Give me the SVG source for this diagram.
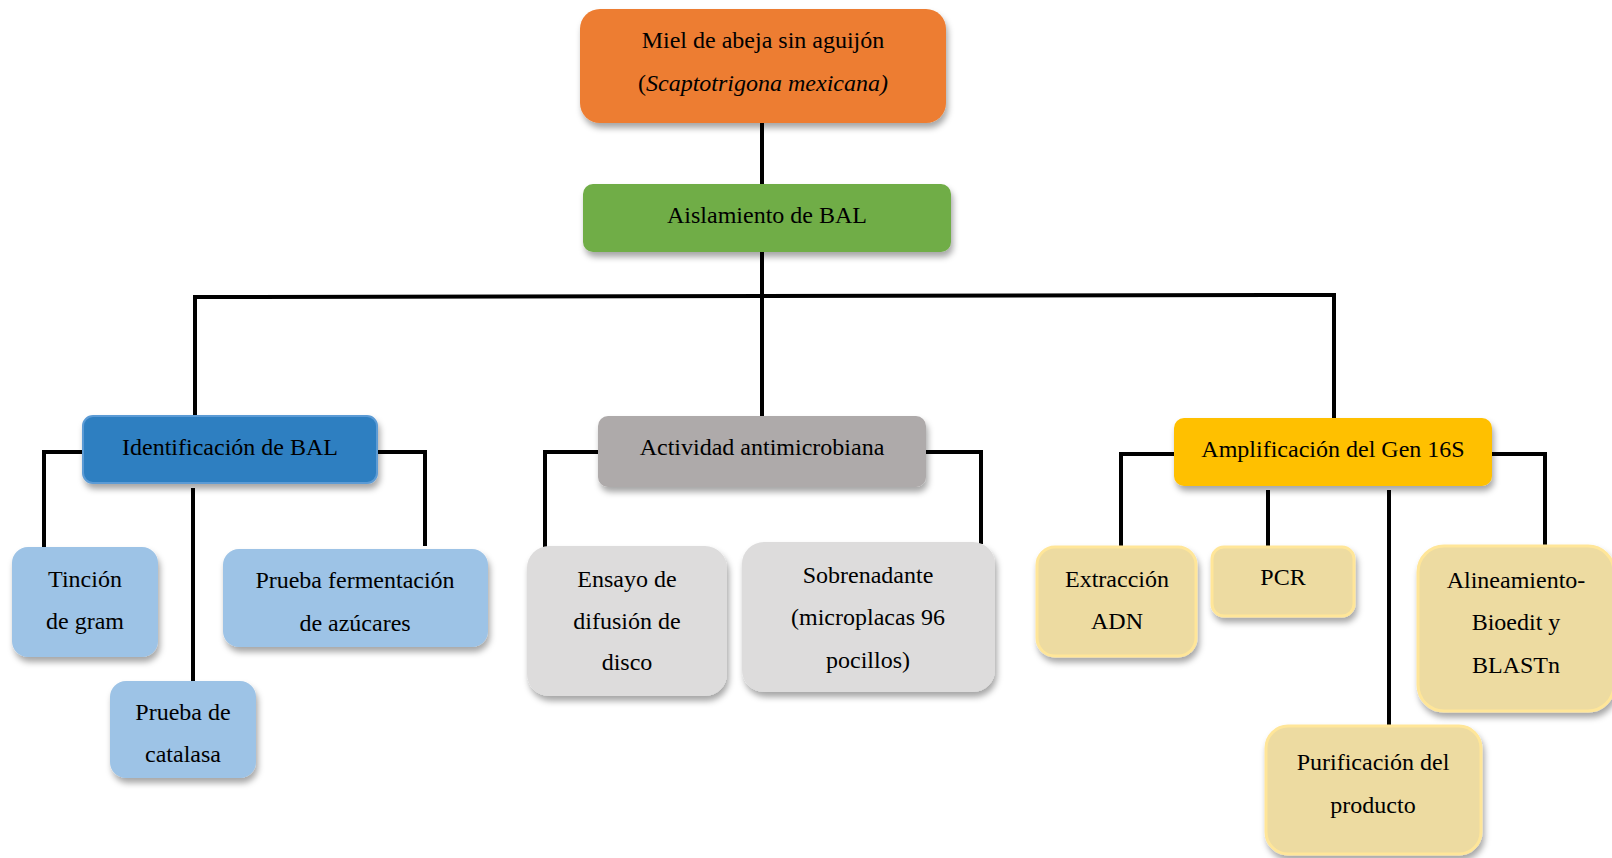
<svg xmlns="http://www.w3.org/2000/svg" width="1612" height="858" viewBox="0 0 1612 858">
<defs>
<filter id="sh" x="-20%" y="-20%" width="140%" height="160%">
<feDropShadow dx="2" dy="5" stdDeviation="3" flood-color="#000" flood-opacity="0.35"/>
</filter>
</defs>
<style>
text{font-family:"Liberation Serif","Times New Roman",serif;font-size:24px;fill:#000;text-anchor:middle}
.c{fill:none;stroke:#000;stroke-width:4}
.lb{fill:#9DC3E6;filter:url(#sh)}
.lg{fill:#DDDCDC;filter:url(#sh)}
.ly{fill:#EDDBA1;stroke:#FFE699;stroke-width:3;filter:url(#sh)}
</style>
<rect width="1612" height="858" fill="#fff"/>
<g id="connectors">
<path class="c" d="M762,123V184"/>
<path class="c" d="M762,252V294"/>
<path class="c" d="M195,418V297L1334,295V420"/>
<path class="c" d="M762,297V416"/>
<path class="c" d="M83,452H44V547"/>
<path class="c" d="M377,452H425V546"/>
<path class="c" d="M193,488V681"/>
<path class="c" d="M598,452H545V547"/>
<path class="c" d="M926,452H981V544"/>
<path class="c" d="M1174,454H1121V550"/>
<path class="c" d="M1492,454H1545V548"/>
<path class="c" d="M1268,490V548"/>
<path class="c" d="M1389,490V725"/>
</g>
<g id="miel">
<rect x="580" y="9" width="366" height="114" rx="20" fill="#ED7D31" filter="url(#sh)"/>
<text x="763" y="48">Miel de abeja sin aguijón</text>
<text x="763" y="91">(<tspan font-style="italic">Scaptotrigona mexicana)</tspan></text>
</g>
<g id="aislamiento">
<rect x="583" y="184" width="368" height="68" rx="10" fill="#70AD47" filter="url(#sh)"/>
<text x="767" y="223">Aislamiento de BAL</text>
</g>
<g id="identificacion">
<rect x="83" y="416" width="294" height="67" rx="10" fill="#2E7FC1" stroke="#5B9BD5" stroke-width="2" filter="url(#sh)"/>
<text x="230" y="455">Identificación de BAL</text>
</g>
<g id="actividad">
<rect x="598" y="416" width="328" height="71" rx="10" fill="#AEAAAA" filter="url(#sh)"/>
<text x="762" y="455">Actividad antimicrobiana</text>
</g>
<g id="amplificacion">
<rect x="1174" y="418" width="318" height="68" rx="10" fill="#FFC000" filter="url(#sh)"/>
<text x="1333" y="457">Amplificación del Gen 16S</text>
</g>
<g id="tincion">
<rect class="lb" x="12" y="547" width="146" height="110" rx="16"/>
<text x="85" y="587">Tinción</text>
<text x="85" y="629">de gram</text>
</g>
<g id="fermentacion">
<rect class="lb" x="223" y="549" width="265" height="98" rx="16"/>
<text x="355" y="588">Prueba fermentación</text>
<text x="355" y="631">de azúcares</text>
</g>
<g id="catalasa">
<rect class="lb" x="110" y="681" width="146" height="97" rx="16"/>
<text x="183" y="720">Prueba de</text>
<text x="183" y="762">catalasa</text>
</g>
<g id="ensayo">
<rect class="lg" x="527" y="546" width="200" height="150" rx="22"/>
<text x="627" y="587">Ensayo de</text>
<text x="627" y="629">difusión de</text>
<text x="627" y="670">disco</text>
</g>
<g id="sobrenadante">
<rect class="lg" x="742" y="542" width="253" height="150" rx="22"/>
<text x="868" y="583">Sobrenadante</text>
<text x="868" y="625">(microplacas 96</text>
<text x="868" y="668">pocillos)</text>
</g>
<g id="extraccion">
<rect class="ly" x="1037" y="547" width="159" height="109" rx="18"/>
<text x="1117" y="587">Extracción</text>
<text x="1117" y="629">ADN</text>
</g>
<g id="pcr">
<rect class="ly" x="1212" y="547" width="142" height="69" rx="12"/>
<text x="1283" y="585">PCR</text>
</g>
<g id="alineamiento">
<rect class="ly" x="1418" y="546" width="196" height="165" rx="26"/>
<text x="1516" y="588">Alineamiento-</text>
<text x="1516" y="630">Bioedit y</text>
<text x="1516" y="673">BLASTn</text>
</g>
<g id="purificacion">
<rect class="ly" x="1266" y="726" width="215" height="128" rx="22"/>
<text x="1373" y="770">Purificación del</text>
<text x="1373" y="813">producto</text>
</g>
</svg>
